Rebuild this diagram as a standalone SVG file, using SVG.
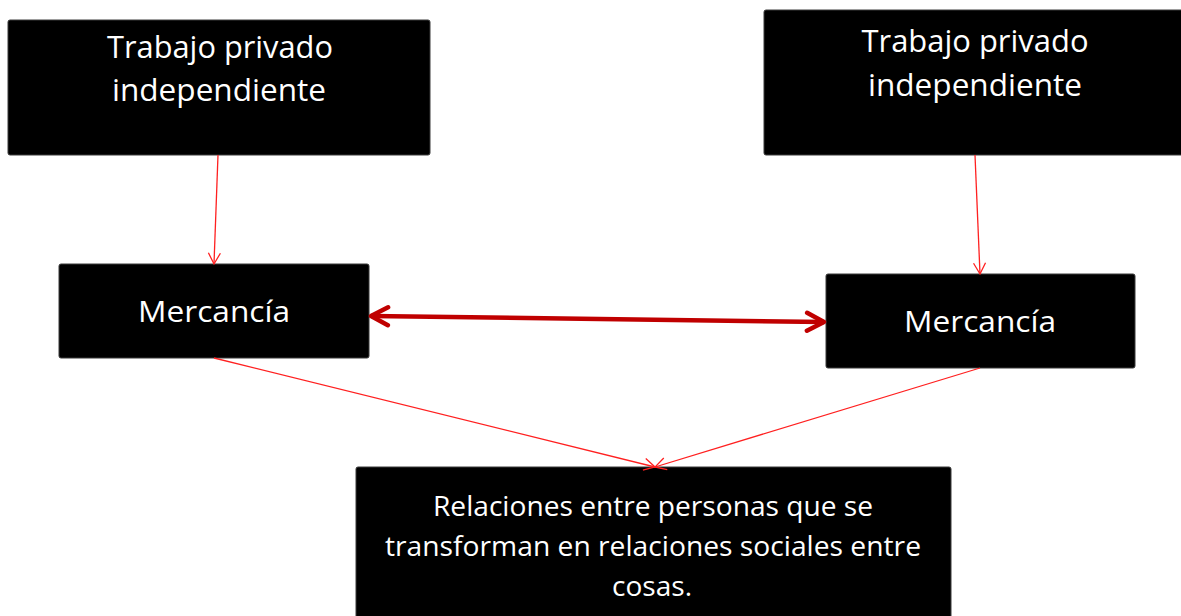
<svg xmlns="http://www.w3.org/2000/svg" width="1181" height="616" viewBox="0 0 1181 616">
<style>
.box{fill:#000;stroke:#3a3a3a;stroke-width:1}
.t{fill:#fff;font-family:"Open Sans","Noto Sans",sans-serif;text-anchor:middle}
.thin{stroke:#ff2020;stroke-width:1.3;fill:none}
.thick{stroke:#c00000;stroke-width:4.5;fill:none}
</style>
<defs>
<marker id="ah" markerUnits="userSpaceOnUse" markerWidth="16" markerHeight="16" refX="12" refY="7" orient="auto" viewBox="0 0 16 14">
<path d="M1,1 L12,7 L1,13" fill="none" stroke="#ff2020" stroke-width="1.3"/>
</marker>
<marker id="ahT" markerUnits="userSpaceOnUse" markerWidth="26" markerHeight="26" refX="20" refY="12" orient="auto-start-reverse" viewBox="0 0 26 24">
<path d="M3,3 L20,12 L3,21" fill="none" stroke="#c00000" stroke-width="4.5" stroke-linecap="round" stroke-linejoin="round"/>
</marker>
</defs>
<g id="n1">
<rect class="box" x="8" y="20" width="422" height="135" rx="2"/>
<text class="t" x="220" y="58" font-size="31" textLength="226" lengthAdjust="spacingAndGlyphs">Trabajo privado</text>
<text class="t" x="219" y="101" font-size="31" textLength="214" lengthAdjust="spacingAndGlyphs">independiente</text>
</g>
<g id="n2">
<rect class="box" x="764" y="10" width="425" height="145" rx="2"/>
<text class="t" x="975" y="52" font-size="31" textLength="227" lengthAdjust="spacingAndGlyphs">Trabajo privado</text>
<text class="t" x="975" y="96" font-size="31" textLength="214" lengthAdjust="spacingAndGlyphs">independiente</text>
</g>
<g id="n3">
<rect class="box" x="59" y="264" width="310" height="94" rx="2"/>
<text class="t" x="214" y="322" font-size="30" textLength="152" lengthAdjust="spacingAndGlyphs">Mercancía</text>
</g>
<g id="n4">
<rect class="box" x="826" y="274" width="309" height="94" rx="2"/>
<text class="t" x="980" y="332" font-size="30" textLength="152" lengthAdjust="spacingAndGlyphs">Mercancía</text>
</g>
<g id="n5">
<rect class="box" x="356" y="467" width="595" height="160" rx="2"/>
<text class="t" x="653" y="516" font-size="28" textLength="440" lengthAdjust="spacingAndGlyphs">Relaciones entre personas que se</text>
<text class="t" x="653" y="556" font-size="28" textLength="536" lengthAdjust="spacingAndGlyphs">transforman en relaciones sociales entre</text>
<text class="t" x="652" y="596" font-size="28" textLength="80" lengthAdjust="spacingAndGlyphs">cosas.</text>
</g>
<g id="connectors">
<line class="thin" x1="218" y1="155" x2="214" y2="264" marker-end="url(#ah)"/>
<line class="thin" x1="975" y1="155" x2="980" y2="274" marker-end="url(#ah)"/>
<line class="thin" x1="214" y1="358" x2="655" y2="467" marker-end="url(#ah)"/>
<line class="thin" x1="980" y1="368" x2="655" y2="467" marker-end="url(#ah)"/>
<line class="thick" x1="371" y1="316" x2="824" y2="322" marker-start="url(#ahT)" marker-end="url(#ahT)"/>
</g>
</svg>
